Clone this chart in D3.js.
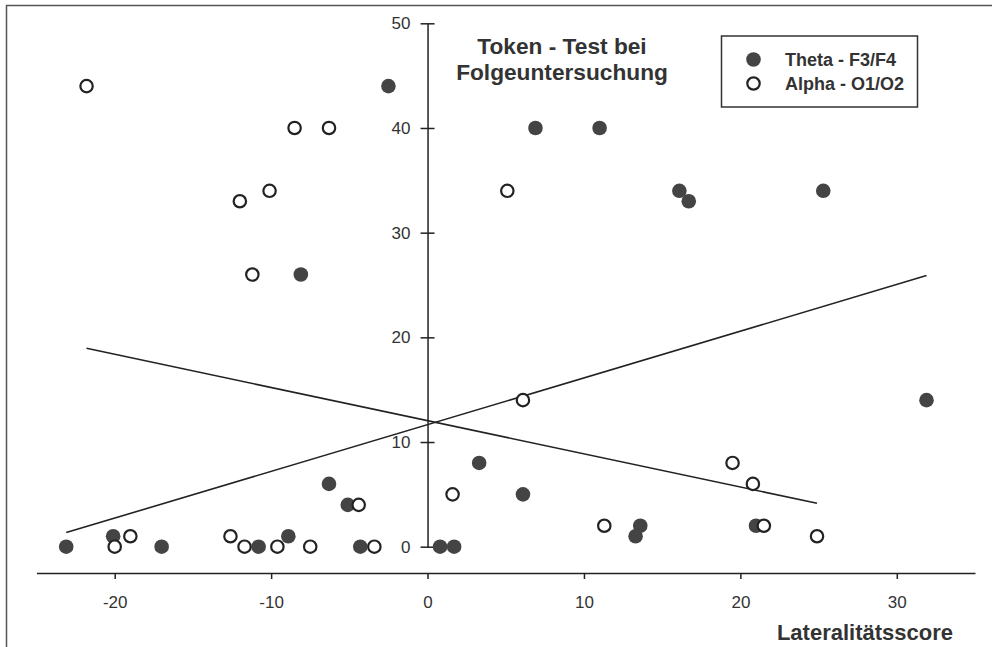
<!DOCTYPE html>
<html>
<head>
<meta charset="utf-8">
<script src="https://cdn.jsdelivr.net/npm/d3@7"></script>
<style>
  body { margin: 0; background: #fff; }
  svg { display: block; font-family: "Liberation Sans", Arial, Helvetica, sans-serif; }
</style>
</head>
<body>
<svg id="chart" width="992" height="647"></svg>
<script>
// Theta - F3/F4 (filled markers)
var thetaX = [-2.5, -8.1, 6.9, 11.0, 16.1, 16.7, 25.3, 31.9, 6.1, 13.6, 13.3, 21.0,
              -23.1, -20.1, -17.0, -10.8, -8.9, -6.3, -5.1, -4.3, 3.3, 0.8, 1.7];
var thetaY = [44, 26, 40, 40, 34, 33, 34, 14, 5, 2, 1, 2,
              0, 1, 0, 0, 1, 6, 4, 0, 8, 0, 0];

// Alpha - O1/O2 (open markers)
var alphaX = [-21.8, -8.5, -6.3, -10.1, -12.0, -11.2, 5.1, 6.1, 19.5, 20.8, 11.3, 21.5, 24.9,
              -20.0, -19.0, -12.6, -11.7, -9.6, -7.5, -4.4, -3.4, 1.6];
var alphaY = [44, 40, 40, 34, 33, 26, 34, 14, 8, 6, 2, 2, 1,
              0, 1, 1, 0, 0, 0, 4, 0, 5];

// regression lines, end points
var thetaFit = [[-23.1, 1.35], [31.9, 25.9]];
var alphaFit = [[-21.8, 18.95], [24.9, 4.15]];

var xTicks = [-20, -10, 0, 10, 20, 30];
var yTicks = [0, 10, 20, 30, 40, 50];
var titleLines = ["Token - Test bei", "Folgeuntersuchung"];
var legendLabels = ["Theta - F3/F4", "Alpha - O1/O2"];
var xLabel = "Lateralitätsscore";

var ink = "#333",
    dotFill = "#444";

var svg = d3.select("#chart");

var x = d3.scaleLinear().domain([-25, 35]).range([36.5, 975]);
var y = d3.scaleLinear().domain([0, 50]).range([546.7, 23.3]);
var xAxisY = 573;

// frame (only left and top edges are visible)
svg.append("path")
    .attr("d", "M6.5,647 L6.5,5.5 L992,5.5")
    .attr("fill", "none")
    .attr("stroke", "#555")
    .attr("stroke-width", 1.5);

// x axis, plain hyphen for negatives like the print
var gx = svg.append("g")
    .attr("transform", "translate(0," + xAxisY + ")")
    .call(d3.axisBottom(x).tickValues(xTicks).tickFormat(String)
          .tickSizeInner(6).tickSizeOuter(0).tickPadding(17));
gx.select(".domain").attr("stroke", "#222").attr("stroke-width", 1.5);
gx.selectAll(".tick line").attr("stroke", "#222").attr("stroke-width", 1.5);
gx.selectAll(".tick text")
    .attr("fill", ink)
    .attr("font-size", 17)
    .attr("font-family", "Liberation Sans, Arial, sans-serif");

// y axis sits on x = 0, ticks cross the line
var gy = svg.append("g")
    .attr("transform", "translate(" + x(0) + ",0)")
    .call(d3.axisLeft(y).tickValues(yTicks).tickFormat(String)
          .tickSizeInner(7).tickSizeOuter(0).tickPadding(10));
gy.select(".domain").attr("stroke", "#222").attr("stroke-width", 1.5);
gy.selectAll(".tick line").attr("x1", 7).attr("stroke", "#222").attr("stroke-width", 1.5);
gy.selectAll(".tick text")
    .attr("fill", ink)
    .attr("font-size", 17)
    .attr("font-family", "Liberation Sans, Arial, sans-serif");

// regression lines
var line = d3.line()
    .x(function (d) { return x(d[0]); })
    .y(function (d) { return y(d[1]); });

[thetaFit, alphaFit].forEach(function (fit) {
    svg.append("path")
        .attr("d", line(fit))
        .attr("fill", "none")
        .attr("stroke", "#222")
        .attr("stroke-width", 1.6);
});

// points
svg.append("g").selectAll("circle")
    .data(d3.range(thetaX.length))
    .join("circle")
      .attr("cx", function (i) { return x(thetaX[i]); })
      .attr("cy", function (i) { return y(thetaY[i]); })
      .attr("r", 7.3)
      .attr("fill", dotFill);

svg.append("g").selectAll("circle")
    .data(d3.range(alphaX.length))
    .join("circle")
      .attr("cx", function (i) { return x(alphaX[i]); })
      .attr("cy", function (i) { return y(alphaY[i]); })
      .attr("r", 6.2)
      .attr("fill", "#fff")
      .attr("stroke", "#222")
      .attr("stroke-width", 2.2);

// title
svg.append("g").selectAll("text")
    .data(titleLines)
    .join("text")
      .attr("x", 562)
      .attr("y", function (d, i) { return 54 + i * 26; })
      .attr("text-anchor", "middle")
      .attr("font-size", 22.7)
      .attr("font-weight", "bold")
      .attr("fill", ink)
      .text(function (d) { return d; });

// legend
var legend = svg.append("g");
legend.append("rect")
    .attr("x", 721.5).attr("y", 36)
    .attr("width", 196).attr("height", 71)
    .attr("fill", "#fff")
    .attr("stroke", "#333")
    .attr("stroke-width", 1.5);

legendLabels.forEach(function (label, i) {
    var cy = 59.5 + i * 24;
    var c = legend.append("circle").attr("cx", 753.5).attr("cy", cy);
    if (i == 0) c.attr("r", 7.3).attr("fill", dotFill);
    else c.attr("r", 6.2).attr("fill", "#fff").attr("stroke", "#222").attr("stroke-width", 2.2);
    legend.append("text")
        .attr("x", 785)
        .attr("y", cy + 6.5)
        .attr("font-size", 18)
        .attr("font-weight", "bold")
        .attr("fill", ink)
        .text(label);
});

// x axis title
svg.append("text")
    .attr("x", 953)
    .attr("y", 639.5)
    .attr("text-anchor", "end")
    .attr("font-size", 22)
    .attr("font-weight", "bold")
    .attr("fill", ink)
    .text(xLabel);
</script>
</body>
</html>
